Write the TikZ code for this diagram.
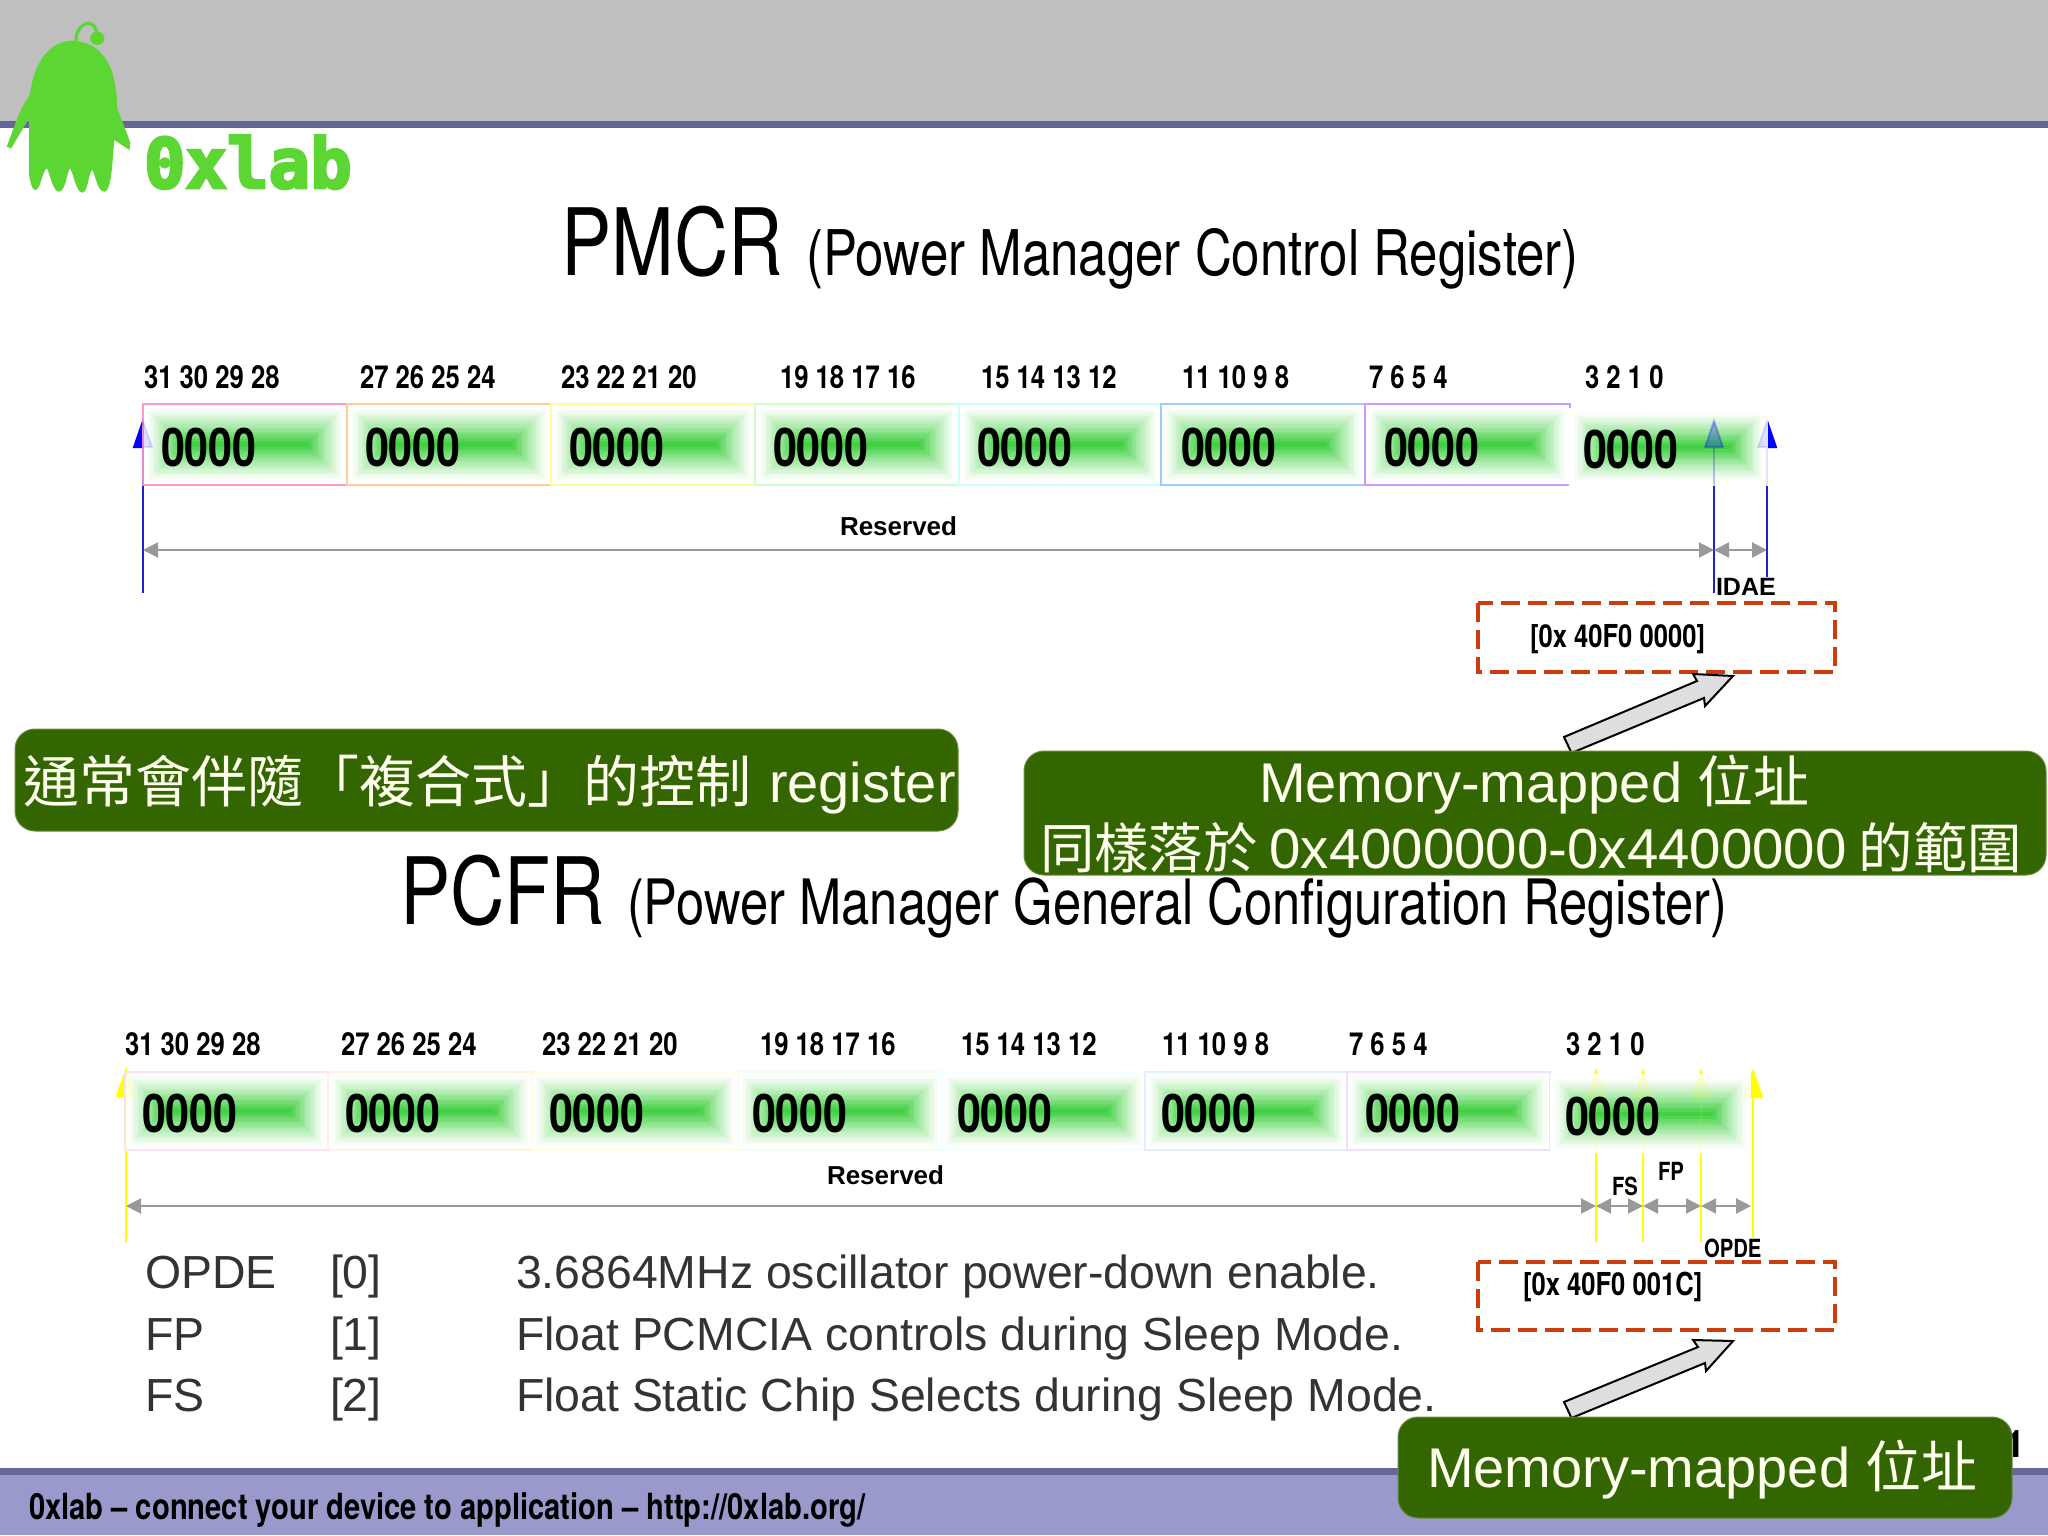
\documentclass[tikz,border=0pt]{standalone}
\usepackage{fontspec}
\usetikzlibrary{arrows.meta}
\setmainfont{Liberation Sans}
\newfontfamily\nrw[FakeStretch=0.81]{TeX Gyre Heros}
\newfontfamily\heros{TeX Gyre Heros}
\newfontfamily\cjk{Noto Sans CJK TC}
\newfontfamily\logofont[FakeBold=4]{DejaVu Sans Mono}
\newcommand\fpx[1]{\fontsize{#1}{#1}\selectfont}
\definecolor{cg}{HTML}{33CC33}
\definecolor{logog}{HTML}{5CD632}
\definecolor{boxg}{HTML}{336600}
\definecolor{cream}{HTML}{FFFFEE}
\definecolor{dim}{HTML}{999999}
\definecolor{dashc}{HTML}{CC3C0C}
\definecolor{markblue}{HTML}{2020D0}
\definecolor{marky}{HTML}{FFFF00}
\definecolor{headgray}{HTML}{BFBFBF}
\definecolor{barline}{HTML}{666699}
\definecolor{barfill}{HTML}{9999CC}
\definecolor{bpink}{HTML}{FF99CC}
\definecolor{borange}{HTML}{FFCC99}
\definecolor{byellow}{HTML}{FFFF99}
\definecolor{bgreen}{HTML}{CCFFCC}
\definecolor{bcyan}{HTML}{CCFFFF}
\definecolor{bblue}{HTML}{99CCFF}
\definecolor{blilac}{HTML}{CC99FF}
\tikzset{
  lbl/.style={anchor=base west,inner sep=0pt,outer sep=0pt},
  bits/.style={lbl,font=\nrw\bfseries\fpx{15.85}},
  digits/.style={lbl,font=\nrw\bfseries\fpx{26.6}},
  body/.style={lbl,font=\fpx{23.2},text=black!80},
  dimline/.style={draw=dim,line width=1pt,{Triangle[length=7.5pt,width=7.5pt,fill=dim]}-{Triangle[length=7.5pt,width=7.5pt,fill=dim]}},
  dashbox/.style={draw=dashc,line width=2pt,dash pattern=on 9.5pt off 4pt},
  bluemark/.style={draw=markblue,line width=1pt,-{Triangle[length=15pt,width=10pt,fill=blue,color=blue]}},
  yellowmark/.style={draw=marky,line width=1.3pt,-{Triangle[length=15pt,width=10pt,fill=marky]}},
  greenbox/.style={fill=boxg,draw=boxg!75!white,line width=.5pt,rounded corners=10pt},
  blockarrow/.style={fill=black!13,draw=black,line width=1pt,line join=miter},
}
\newcommand\regcell[5]{%
  \fill[white] (#1,#2) rectangle ++(#3,#4);
  \foreach \i in {0,...,15}{%
    \pgfmathsetmacro\ins{2+\i*(#4/2-2)/15}%
    \pgfmathsetmacro\tint{100*(\i/15)^1.25}%
    \fill[cg!\tint!white] ({#1+\ins},{#2+\ins}) rectangle ({#1+#3-\ins},{#2+#4-\ins});
  }%
  \draw[#5,line width=1pt] (#1,#2) rectangle ++(#3,#4);
}
\begin{document}
\begin{tikzpicture}[x=0.5pt,y=-0.5pt]
\useasboundingbox (0,0) rectangle (2048,1535);
\fill[white] (0,0) rectangle (2048,1535);
% header and footer bands
\fill[headgray] (0,0) rectangle (2048,121);
\fill[barline] (0,121) rectangle (2048,128);
\fill[barfill] (0,1475) rectangle (2048,1535);
\fill[barline] (0,1468) rectangle (2048,1475);
% logo mascot (in crop units)
\begin{scope}[x=.2232pt,y=-.16667pt]
\fill[logog] (160,122) .. controls (110,125) and (78,190) .. (70,262)
  -- (65,290) .. controls (45,320) and (30,390) .. (15,440) -- (25,445) -- (65,355)
  -- (65,520) .. controls (68,550) and (72,572) .. (80,570) .. controls (92,565) and (95,510) .. (105,505)
  .. controls (112,520) and (118,575) .. (132,575) .. controls (148,575) and (150,510) .. (157,505)
  .. controls (165,520) and (170,578) .. (185,578) .. controls (198,575) and (198,515) .. (207,510)
  .. controls (215,530) and (218,575) .. (235,575) .. controls (250,570) and (252,480) .. (256,420)
  -- (290,450) -- (292,430) .. controls (280,380) and (268,350) .. (262,320)
  .. controls (262,250) and (250,125) .. (160,122) -- cycle;
\draw[logog,line width=1.6pt] (170,125) .. controls (168,95) and (185,68) .. (200,70) .. controls (212,72) and (216,90) .. (218,105);
\fill[logog] (218,115) ellipse (16 and 20);
\end{scope}
\node[lbl,font=\logofont\bfseries\fpx{34.5},text=logog] (logotext) at (144,188) {0xlab};
% titles
\node[lbl,font=\nrw\fpx{46.5}] (pmcr) at (561,276) {PMCR};
\node[lbl,font=\nrw\fpx{31.5}] (pmcrlong) at (806,276) {(Power Manager Control Register)};
% upper register: marks under the cells
\coordinate (ua) at (143,593); \coordinate (uat) at (143,418);
\coordinate (ub) at (1714,593); \coordinate (ubt) at (1714,418);
\coordinate (uc) at (1767,577); \coordinate (uct) at (1767,418);
\draw[bluemark] (ua) -- (uat);
\draw[bluemark] (uc) -- (uct);
\draw[bluemark] (ub) -- (ubt);
\regcell{143}{404}{204}{81}{bpink}
\regcell{347}{404}{204}{81}{borange}
\regcell{551}{404}{204}{81}{byellow}
\regcell{755}{404}{204}{81}{bgreen}
\regcell{959}{404}{202}{81}{bcyan}
\regcell{1161}{404}{204}{81}{bblue}
\regcell{1365}{404}{205}{81}{blilac}
\regcell{1570}{409}{197}{76}{white}
\begin{scope}[opacity=.12]
\draw[bluemark] (ua) -- (uat);
\draw[bluemark] (uc) -- (uct);
\end{scope}
\begin{scope}[opacity=.28]
\draw[bluemark] (ub) -- (ubt);
\end{scope}
\draw[markblue,line width=1pt] (1714,487) -- (ub);
\draw[markblue,line width=1pt] (1767,487) -- (uc);
\foreach \n/\x in {1/161,2/365,3/569,4/773,5/977,6/1181,7/1384}
  \node[digits] (ud\n) at (\x,466) {0000};
\node[digits] (ud8) at (1583,468) {0000};
\foreach \n/\x/\t in {1/144/31 30 29 28,2/360/27 26 25 24,3/561/23 22 21 20,4/780/19 18 17 16,5/981/15 14 13 12,6/1182/11 10 9 8,7/1369/7 6 5 4,8/1585/3 2 1 0}
  \node[bits] (ub\n) at (\x,388) {\t};
\node[lbl,font=\bfseries\fpx{13}] (ures) at (840,535) {Reserved};
\coordinate (ula) at (143,550); \coordinate (ulb) at (1714,550); \coordinate (ulc) at (1767,550);
\draw[dimline] (ula) -- (ulb);
\draw[dimline] (ulb) -- (ulc);
\node[lbl,font=\bfseries\fpx{12.5}] (idae) at (1716,595) {IDAE};
\draw[dashbox] (1478,603) rectangle (1835,672);
\node[lbl,font=\nrw\bfseries\fpx{15.8}] (uaddr) at (1530,647) {[0x 40F0 0000]};
% upper block arrow
\draw[blockarrow] (1733,676) -- (1693,674) -- (1697,681) -- (1564,737) -- (1571.5,753) -- (1704,698) -- (1705,706) -- cycle;
% green call-outs
\draw[greenbox] (15,729) rectangle (958,831);
\node[lbl,text=cream,font=\fpx{28}] (c1) at (23,802) {\cjk 通常會伴隨「複合式」的控制\rmfamily\hspace{9pt}register};
\draw[greenbox] (1024,751) rectangle (2046,875);
\node[lbl,text=cream,font=\fpx{28}] (c2a) at (1259,802) {Memory-mapped {\cjk 位址}};
\node[lbl,text=cream,font=\fpx{28.2}] (c2b) at (1040,868) {{\cjk\fpx{27.2}同樣落於}\hspace{6pt}0x4000000-0x4400000\hspace{6pt}{\cjk\fpx{27.2}的範圍}};
% lower register
\node[lbl,font=\nrw\fpx{46.5}] (pcfr) at (400,924) {PCFR};
\node[lbl,font=\nrw\fpx{31.3}] (pcfrlong) at (627,924) {(Power Manager General Configuration Register)};
\coordinate (la) at (126,1242); \coordinate (lat) at (126,1067);
\coordinate (lb) at (1596,1242); \coordinate (lbt) at (1596,1068);
\coordinate (lc) at (1643,1242); \coordinate (lct) at (1643,1068);
\coordinate (ld) at (1701,1242); \coordinate (ldt) at (1701,1068);
\coordinate (le) at (1753,1237); \coordinate (let) at (1753,1068);
\foreach \p/\q in {la/lat,lb/lbt,lc/lct,ld/ldt,le/let}
  \draw[yellowmark] (\p) -- (\q);
\regcell{125}{1072}{203}{78}{bpink!30!white}
\regcell{328}{1072}{204}{78}{borange!30!white}
\regcell{532}{1072}{206}{78}{byellow!30!white}
\regcell{738}{1072}{204}{78}{bgreen!30!white}
\regcell{942}{1072}{203}{78}{bcyan!30!white}
\regcell{1145}{1072}{202}{78}{bblue!30!white}
\regcell{1347}{1072}{203}{78}{blilac!30!white}
\regcell{1551}{1075}{199}{78}{white}
\begin{scope}[opacity=.1]
\foreach \p/\q in {la/lat,lb/lbt,lc/lct,ld/ldt,le/let}
  \draw[yellowmark] (\p) -- (\q);
\end{scope}
\foreach \p in {lb,lc,ld,le}
  \draw[marky,line width=1.3pt] (\p |- 0,1153) -- (\p);
\foreach \n/\x in {1/142,2/345,3/549,4/752,5/957,6/1161,7/1365}
  \node[digits] (ld\n) at (\x,1132) {0000};
\node[digits] (ld8) at (1565,1135) {0000};
\foreach \n/\x/\t in {1/125/31 30 29 28,2/341/27 26 25 24,3/542/23 22 21 20,4/760/19 18 17 16,5/961/15 14 13 12,6/1162/11 10 9 8,7/1349/7 6 5 4,8/1566/3 2 1 0}
  \node[bits] (lb\n) at (\x,1055) {\t};
\node[lbl,font=\bfseries\fpx{13}] (lres) at (827,1184) {Reserved};
\coordinate (lla) at (126,1206); \coordinate (llb) at (1596,1206); \coordinate (llc) at (1643,1206); \coordinate (lld) at (1701,1206); \coordinate (lle) at (1751,1206);
\draw[dimline] (lla) -- (llb);
\draw[dimline] (llb) -- (llc);
\draw[dimline] (llc) -- (lld);
\draw[dimline] (lld) -- (lle);
\node[lbl,font=\nrw\bfseries\fpx{12.5}] (fs) at (1612,1195) {FS};
\node[lbl,font=\nrw\bfseries\fpx{12.5}] (fp) at (1658,1180) {FP};
\node[lbl,font=\nrw\bfseries\fpx{12.5}] (opde) at (1704,1257) {OPDE};
\draw[dashbox] (1478,1262) rectangle (1835,1330);
\node[lbl,font=\nrw\bfseries\fpx{15.8}] (laddr) at (1523,1295) {[0x 40F0 001C]};
% descriptions
\node[body] (t1a) at (145,1288) {OPDE};
\node[body] (t1b) at (330,1288) {[0]};
\node[body] (t1c) at (516,1288) {3.6864MHz oscillator power-down enable.};
\node[body] (t2a) at (145,1350) {FP};
\node[body] (t2b) at (330,1350) {[1]};
\node[body] (t2c) at (516,1350) {Float PCMCIA controls during Sleep Mode.};
\node[body] (t3a) at (145,1411) {FS};
\node[body] (t3b) at (330,1411) {[2]};
\node[body] (t3c) at (516,1411) {Float Static Chip Selects during Sleep Mode.};
% footer text and page number
\node[lbl,font=\nrw\bfseries\fpx{18}] (foot) at (29,1519) {0xlab – connect your device to application – http://0xlab.org/};
\node[anchor=base east,inner sep=0pt,font=\heros\bfseries\fpx{19}] (page) at (2026,1457) {1};
% lower block arrow and call-out
\draw[blockarrow] (1733,1341) -- (1693,1340) -- (1698,1347) -- (1564,1402) -- (1571.5,1418) -- (1705,1363) -- (1706,1371) -- cycle;
\draw[greenbox] (1398,1417) rectangle (2012,1518);
\node[lbl,text=cream,font=\fpx{28}] (c3) at (1427,1487) {Memory-mapped {\cjk 位址}};
\end{tikzpicture}
\end{document}
